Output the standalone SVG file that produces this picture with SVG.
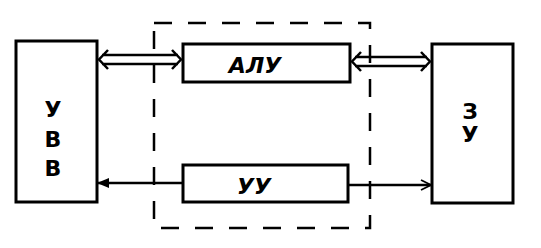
<svg xmlns="http://www.w3.org/2000/svg" width="541" height="248" viewBox="0 0 541 248">
  <defs>
    <style>
      .box { fill: #fff; stroke: #000; stroke-width: 3; }
      .line { fill: none; stroke: #000; stroke-width: 2.5; }
      .dash { fill: none; stroke: #000; stroke-width: 2.5; stroke-dasharray: 18 16; }
      .lbl { font-family: "DejaVu Sans", "Liberation Sans", sans-serif; font-size: 22px; font-weight: bold; fill: #000; text-anchor: middle; }
    </style>
    <marker id="filled" viewBox="0 0 10 10" refX="9" refY="5" markerWidth="5" markerHeight="5" orient="auto-start-reverse">
      <path d="M0,1 L10,5 L0,9 Z" fill="#000"/>
    </marker>
    <marker id="open" viewBox="0 0 10 10" refX="9" refY="5" markerWidth="5" markerHeight="5" orient="auto">
      <path d="M1,1 L9,5 L1,9" fill="none" stroke="#000" stroke-width="1.5"/>
    </marker>
  </defs>

  <!-- processor boundary -->
  <rect class="dash" x="154" y="23" width="216" height="205"/>

  <g id="connectors">
    <!-- hollow double arrow: УВВ <-> АЛУ -->
    <path class="line" d="M102,55 L178,55 M102,64 L178,64 M108,50 L99,59.5 L108,69 M172,50 L181,59.5 L172,69"/>
    <!-- hollow double arrow: АЛУ <-> ЗУ -->
    <path class="line" d="M355,57 L427,57 M355,66 L427,66 M361,52 L352,61.5 L361,71 M421,52 L430,61.5 L421,71"/>
    <!-- УУ -> УВВ -->
    <line class="line" x1="183" y1="183" x2="98" y2="183" marker-end="url(#filled)"/>
    <!-- УУ -> ЗУ -->
    <line class="line" x1="348" y1="185" x2="431" y2="185" marker-end="url(#open)"/>
  </g>

  <g id="uvv">
    <rect class="box" x="16" y="41" width="81" height="161"/>
    <text class="lbl" x="53" y="117">У</text>
    <text class="lbl" x="53" y="147">В</text>
    <text class="lbl" x="53" y="176">В</text>
  </g>

  <g id="alu">
    <rect class="box" x="183" y="44" width="167" height="38"/>
    <text class="lbl" x="255" y="73" font-style="italic">АЛУ</text>
  </g>

  <g id="uu">
    <rect class="box" x="183" y="165" width="165" height="37"/>
    <text class="lbl" x="254" y="194" font-style="italic">УУ</text>
  </g>

  <g id="zu">
    <rect class="box" x="432" y="44" width="81" height="159"/>
    <text class="lbl" x="470" y="119" font-size="18">З</text>
    <text class="lbl" x="470" y="142" font-size="18">У</text>
  </g>
</svg>
